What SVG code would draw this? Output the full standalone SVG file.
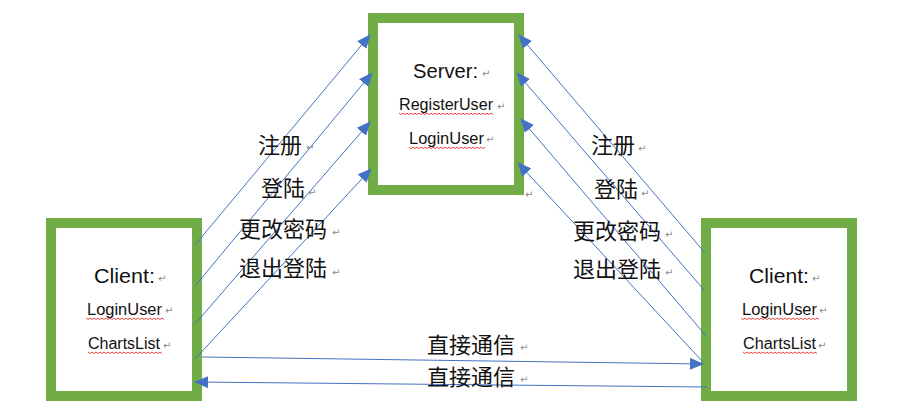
<svg xmlns="http://www.w3.org/2000/svg" width="923" height="408" viewBox="0 0 923 408">
<style>
.box{fill:#fff;stroke:#70AD47;stroke-width:10}
.t{font-family:"Liberation Sans","Noto Sans",sans-serif;fill:#111}
.big{font-size:21px}
.sm{font-size:16px}
.cn{font-family:"Noto Sans CJK SC",sans-serif;font-size:22px;fill:#111}
.pm{font-family:"DejaVu Sans",sans-serif;font-size:10px;fill:#8a8a8a}
.ln{stroke:#4472C4;stroke-width:1;fill:none}
.sq{stroke:#E8322C;stroke-width:0.9;fill:none}
</style>
<defs>
<marker id="ah" markerUnits="userSpaceOnUse" markerWidth="14" markerHeight="12" viewBox="0 0 14 12" refX="13" refY="6" orient="auto">
<path d="M0,0 L14,6 L0,12 z" fill="#4472C4"/>
</marker>
</defs>
<g id="server">
<rect class="box" x="373" y="18" width="146" height="172"/>
<text class="t big" x="413" y="78" textLength="65" lengthAdjust="spacingAndGlyphs">Server:</text>
<text class="t sm" x="399" y="110" textLength="94" lengthAdjust="spacingAndGlyphs">RegisterUser</text>
<text class="t sm" x="409" y="144" textLength="75" lengthAdjust="spacingAndGlyphs">LoginUser</text>
<path class="sq" d="M399,113 l2,1.6 l2,-1.6 l2,1.6 l2,-1.6 l2,1.6 l2,-1.6 l2,1.6 l2,-1.6 l2,1.6 l2,-1.6 l2,1.6 l2,-1.6 l2,1.6 l2,-1.6 l2,1.6 l2,-1.6 l2,1.6 l2,-1.6 l2,1.6 l2,-1.6 l2,1.6 l2,-1.6 l2,1.6 l2,-1.6 l2,1.6 l2,-1.6 l2,1.6 l2,-1.6 l2,1.6 l2,-1.6 l2,1.6 l2,-1.6 l2,1.6 l2,-1.6 l2,1.6 l2,-1.6 l2,1.6 l2,-1.6 l2,1.6 l2,-1.6 l2,1.6 l2,-1.6 l2,1.6 l2,-1.6 l2,1.6 l2,-1.6 l2,1.6"/>
<path class="sq" d="M409,147 l2,1.6 l2,-1.6 l2,1.6 l2,-1.6 l2,1.6 l2,-1.6 l2,1.6 l2,-1.6 l2,1.6 l2,-1.6 l2,1.6 l2,-1.6 l2,1.6 l2,-1.6 l2,1.6 l2,-1.6 l2,1.6 l2,-1.6 l2,1.6 l2,-1.6 l2,1.6 l2,-1.6 l2,1.6 l2,-1.6 l2,1.6 l2,-1.6 l2,1.6 l2,-1.6 l2,1.6 l2,-1.6 l2,1.6 l2,-1.6 l2,1.6 l2,-1.6 l2,1.6 l2,-1.6 l2,1.6 l2,-1.6"/>
<text class="pm" x="482" y="77">↵</text>
<text class="pm" x="497" y="110">↵</text>
<text class="pm" x="486" y="143">↵</text>
<text class="pm" x="525" y="198">↵</text>
</g>
<g id="client-left">
<rect class="box" x="51" y="223" width="146" height="173"/>
<text class="t big" x="94" y="283" textLength="61" lengthAdjust="spacingAndGlyphs">Client:</text>
<text class="t sm" x="87" y="315" textLength="75" lengthAdjust="spacingAndGlyphs">LoginUser</text>
<text class="t sm" x="88" y="349" textLength="72" lengthAdjust="spacingAndGlyphs">ChartsList</text>
<path class="sq" d="M86,318 l2,1.6 l2,-1.6 l2,1.6 l2,-1.6 l2,1.6 l2,-1.6 l2,1.6 l2,-1.6 l2,1.6 l2,-1.6 l2,1.6 l2,-1.6 l2,1.6 l2,-1.6 l2,1.6 l2,-1.6 l2,1.6 l2,-1.6 l2,1.6 l2,-1.6 l2,1.6 l2,-1.6 l2,1.6 l2,-1.6 l2,1.6 l2,-1.6 l2,1.6 l2,-1.6 l2,1.6 l2,-1.6 l2,1.6 l2,-1.6 l2,1.6 l2,-1.6 l2,1.6 l2,-1.6 l2,1.6 l2,-1.6 l2,1.6"/>
<path class="sq" d="M88,352 l2,1.6 l2,-1.6 l2,1.6 l2,-1.6 l2,1.6 l2,-1.6 l2,1.6 l2,-1.6 l2,1.6 l2,-1.6 l2,1.6 l2,-1.6 l2,1.6 l2,-1.6 l2,1.6 l2,-1.6 l2,1.6 l2,-1.6 l2,1.6 l2,-1.6 l2,1.6 l2,-1.6 l2,1.6 l2,-1.6 l2,1.6 l2,-1.6 l2,1.6 l2,-1.6 l2,1.6 l2,-1.6 l2,1.6 l2,-1.6 l2,1.6 l2,-1.6 l2,1.6 l2,-1.6 l2,1.6"/>
<text class="pm" x="158" y="282">↵</text>
<text class="pm" x="165" y="314">↵</text>
<text class="pm" x="163" y="349">↵</text>
</g>
<g id="client-right">
<rect class="box" x="706" y="223" width="146" height="173"/>
<text class="t big" x="749" y="283" textLength="60" lengthAdjust="spacingAndGlyphs">Client:</text>
<text class="t sm" x="742" y="315" textLength="75" lengthAdjust="spacingAndGlyphs">LoginUser</text>
<text class="t sm" x="743" y="349" textLength="73" lengthAdjust="spacingAndGlyphs">ChartsList</text>
<path class="sq" d="M741,318 l2,1.6 l2,-1.6 l2,1.6 l2,-1.6 l2,1.6 l2,-1.6 l2,1.6 l2,-1.6 l2,1.6 l2,-1.6 l2,1.6 l2,-1.6 l2,1.6 l2,-1.6 l2,1.6 l2,-1.6 l2,1.6 l2,-1.6 l2,1.6 l2,-1.6 l2,1.6 l2,-1.6 l2,1.6 l2,-1.6 l2,1.6 l2,-1.6 l2,1.6 l2,-1.6 l2,1.6 l2,-1.6 l2,1.6 l2,-1.6 l2,1.6 l2,-1.6 l2,1.6 l2,-1.6 l2,1.6 l2,-1.6 l2,1.6"/>
<path class="sq" d="M743,352 l2,1.6 l2,-1.6 l2,1.6 l2,-1.6 l2,1.6 l2,-1.6 l2,1.6 l2,-1.6 l2,1.6 l2,-1.6 l2,1.6 l2,-1.6 l2,1.6 l2,-1.6 l2,1.6 l2,-1.6 l2,1.6 l2,-1.6 l2,1.6 l2,-1.6 l2,1.6 l2,-1.6 l2,1.6 l2,-1.6 l2,1.6 l2,-1.6 l2,1.6 l2,-1.6 l2,1.6 l2,-1.6 l2,1.6 l2,-1.6 l2,1.6 l2,-1.6 l2,1.6 l2,-1.6 l2,1.6"/>
<text class="pm" x="812" y="282">↵</text>
<text class="pm" x="819" y="314">↵</text>
<text class="pm" x="818" y="349">↵</text>
</g>
<g id="connectors">
<line class="ln" x1="195" y1="245" x2="370" y2="35" marker-end="url(#ah)"/>
<line class="ln" x1="195" y1="286" x2="372" y2="73" marker-end="url(#ah)"/>
<line class="ln" x1="195" y1="324" x2="370" y2="122" marker-end="url(#ah)"/>
<line class="ln" x1="195" y1="359" x2="371" y2="169" marker-end="url(#ah)"/>
<line class="ln" x1="705" y1="253" x2="519" y2="35" marker-end="url(#ah)"/>
<line class="ln" x1="704" y1="290" x2="517" y2="73" marker-end="url(#ah)"/>
<line class="ln" x1="707" y1="337" x2="521" y2="119" marker-end="url(#ah)"/>
<line class="ln" x1="703" y1="362" x2="518" y2="163" marker-end="url(#ah)"/>
<line class="ln" x1="202" y1="357" x2="703" y2="364" marker-end="url(#ah)"/>
<line class="ln" x1="707" y1="387" x2="195" y2="382" marker-end="url(#ah)"/>
</g>
<g id="labels">
<text class="cn" x="258" y="153">注册</text>
<text class="cn" x="261" y="196">登陆</text>
<text class="cn" x="239" y="237">更改密码</text>
<text class="cn" x="239" y="276">退出登陆</text>
<text class="cn" x="591" y="153">注册</text>
<text class="cn" x="594" y="197">登陆</text>
<text class="cn" x="573" y="239">更改密码</text>
<text class="cn" x="573" y="277">退出登陆</text>
<text class="cn" x="427" y="353">直接通信</text>
<text class="cn" x="427" y="385">直接通信</text>
<text class="pm" x="306" y="151">↵</text>
<text class="pm" x="308" y="196">↵</text>
<text class="pm" x="332" y="236">↵</text>
<text class="pm" x="332" y="276">↵</text>
<text class="pm" x="638" y="152">↵</text>
<text class="pm" x="641" y="197">↵</text>
<text class="pm" x="665" y="238">↵</text>
<text class="pm" x="665" y="276">↵</text>
<text class="pm" x="520" y="351">↵</text>
<text class="pm" x="520" y="383">↵</text>
</g>
</svg>
